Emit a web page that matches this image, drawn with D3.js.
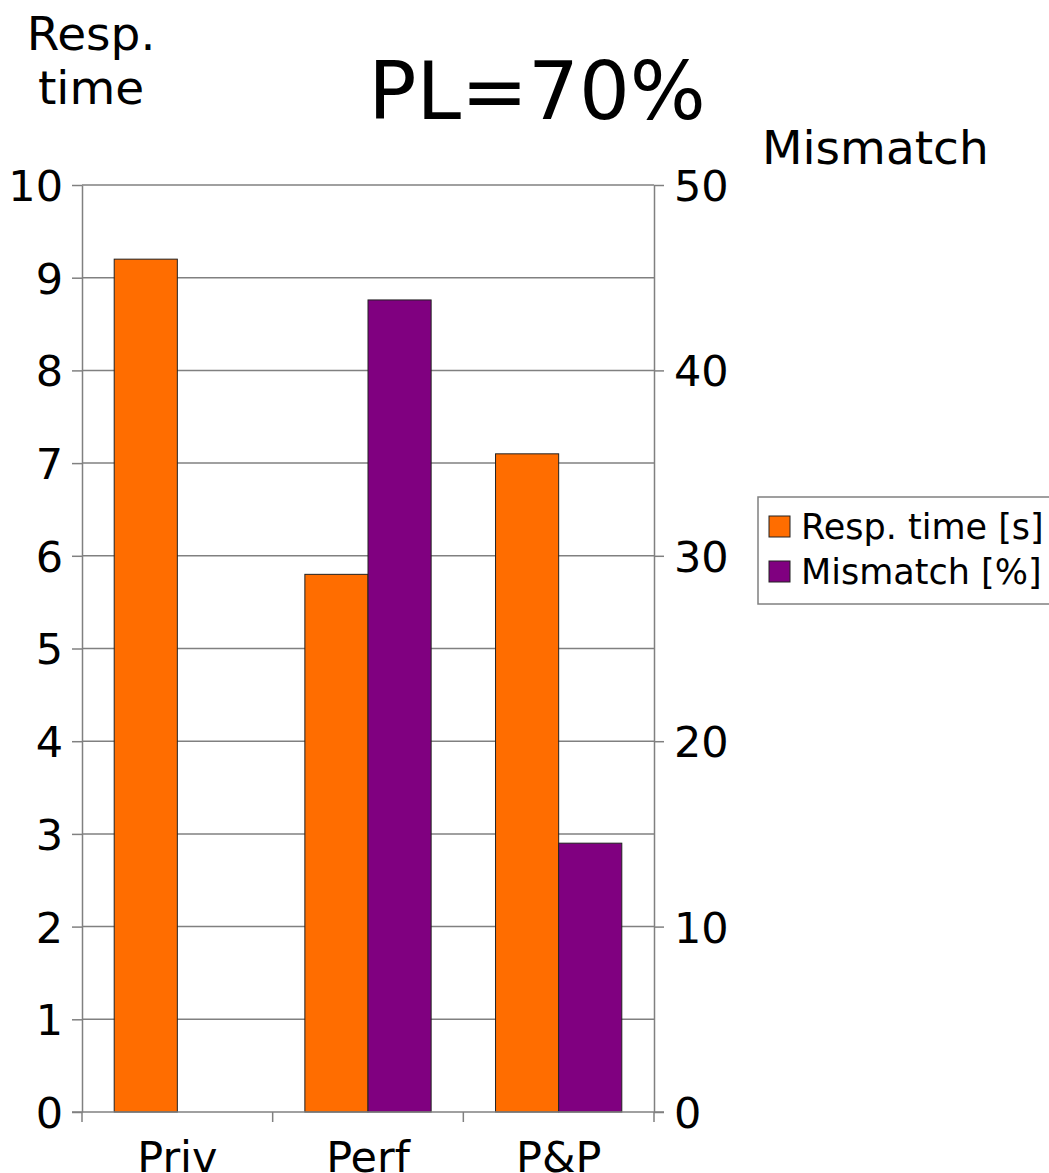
<!DOCTYPE html>
<html>
<head>
  <script src="https://d3js.org/d3.v7.min.js"></script>
  <style>
    html, body {
      margin: 0px;
      padding: 0px;
      background: #fff;
      font-family: "DejaVu Sans", Verdana, sans-serif;
    }
    .axis text {
      font-size: 43px;
      fill: #000;
      font-family: "DejaVu Sans", sans-serif;
    }
    .axis path, .axis line {
      stroke: #808080;
      stroke-width: 1.5;
    }
  </style>
</head>
<body>
  <div id="chart"></div>
  <script>
    // data
    const categories = ["Priv", "Perf", "P&P"];
    const respTime = [9.2, 5.8, 7.1];      // left axis, seconds
    const mismatch = [0, 43.8, 14.5];      // right axis, percent
    const leftTicks = [0, 1, 2, 3, 4, 5, 6, 7, 8, 9, 10];
    const rightTicks = [0, 10, 20, 30, 40, 50];

    const width = 1049, height = 1173;
    const margin = {top: 185, left: 82, right: 395, bottom: 61};

    const svg = d3.select("#chart")
      .append("svg")
      .attr("width", width)
      .attr("height", height);

    const x = d3.scaleBand()
      .domain(categories)
      .range([margin.left, width - margin.right])
      .paddingInner(0)
      .paddingOuter(0);

    const inner = d3.scaleBand()
      .domain(["resp", "mis"])
      .range([0, x.bandwidth()])
      .paddingOuter(0.51)
      .paddingInner(0);

    const yL = d3.scaleLinear().domain([0, 10]).range([height - margin.bottom, margin.top]);
    const yR = d3.scaleLinear().domain([0, 50]).range([height - margin.bottom, margin.top]);

    // gridlines
    svg.append("g")
      .selectAll("line")
      .data(leftTicks.slice(1))
      .join("line")
        .attr("x1", margin.left)
        .attr("x2", width - margin.right)
        .attr("y1", d => yL(d))
        .attr("y2", d => yL(d))
        .attr("stroke", "#808080")
        .attr("stroke-width", 1.5);

    const colors = {resp: "#ff6d00", mis: "#800080"};

    const rows = categories.map((c, i) => ({cat: c, resp: respTime[i], mis: mismatch[i]}));

    const groups = svg.append("g")
      .selectAll("g")
      .data(rows)
      .join("g")
        .attr("transform", d => `translate(${x(d.cat)},0)`);

    groups.append("rect")
      .attr("x", inner("resp"))
      .attr("width", inner.bandwidth())
      .attr("y", d => yL(d.resp))
      .attr("height", d => yL(0) - yL(d.resp))
      .attr("fill", colors.resp)
      .attr("stroke", "#222")
      .attr("stroke-width", 1);

    groups.filter(d => d.mis > 0).append("rect")
      .attr("x", inner("mis"))
      .attr("width", inner.bandwidth())
      .attr("y", d => yR(d.mis))
      .attr("height", d => yR(0) - yR(d.mis))
      .attr("fill", colors.mis)
      .attr("stroke", "#222")
      .attr("stroke-width", 1);

    // axes
    svg.append("g")
      .attr("class", "axis")
      .attr("transform", `translate(${margin.left},0)`)
      .call(d3.axisLeft(yL).tickValues(leftTicks).tickSize(10).tickPadding(9).tickSizeOuter(0))
      .selectAll("text").attr("dy", "0.36em");

    svg.append("g")
      .attr("class", "axis")
      .attr("transform", `translate(${width - margin.right},0)`)
      .call(d3.axisRight(yR).tickValues(rightTicks).tickSize(10).tickPadding(10).tickSizeOuter(0))
      .selectAll("text").attr("dy", "0.36em");

    const xAxis = svg.append("g")
      .attr("class", "axis")
      .attr("transform", `translate(0,${height - margin.bottom})`)
      .call(d3.axisBottom(x).tickSize(0).tickPadding(29).tickSizeOuter(0));
    xAxis.select(".domain").remove();

    // category separators below the baseline
    const seps = [margin.left].concat(categories.map(c => x(c) + x.bandwidth()));
    xAxis.selectAll(".sep")
      .data(seps)
      .join("line")
        .attr("class", "sep")
        .attr("x1", d => d).attr("x2", d => d)
        .attr("y1", 0).attr("y2", 10);
    xAxis.append("line")
      .attr("x1", margin.left - 10)
      .attr("x2", width - margin.right + 10)
      .attr("y1", 0).attr("y2", 0);

    // titles
    svg.append("text")
      .attr("x", 537).attr("y", 119)
      .attr("text-anchor", "middle")
      .attr("font-size", 80)
      .text("PL=70%");

    svg.append("text")
      .attr("x", 91).attr("y", 50)
      .attr("text-anchor", "middle")
      .attr("font-size", 47)
      .text("Resp.");
    svg.append("text")
      .attr("x", 91).attr("y", 104)
      .attr("text-anchor", "middle")
      .attr("font-size", 47)
      .text("time");

    svg.append("text")
      .attr("x", 762).attr("y", 164)
      .attr("font-size", 47)
      .text("Mismatch");

    // legend
    const legend = svg.append("g").attr("transform", "translate(758,497)");
    legend.append("rect")
      .attr("width", 300).attr("height", 107)
      .attr("fill", "#fff")
      .attr("stroke", "#808080")
      .attr("stroke-width", 1.5);
    const items = [["Resp. time [s]", colors.resp], ["Mismatch [%]", colors.mis]];
    items.forEach((it, i) => {
      legend.append("rect")
        .attr("x", 11).attr("y", 19 + i * 45)
        .attr("width", 21).attr("height", 21)
        .attr("fill", it[1])
        .attr("stroke", "#222");
      legend.append("text")
        .attr("x", 43).attr("y", 42 + i * 45)
        .attr("font-size", 35)
        .text(it[0]);
    });
  </script>
</body>
</html>
